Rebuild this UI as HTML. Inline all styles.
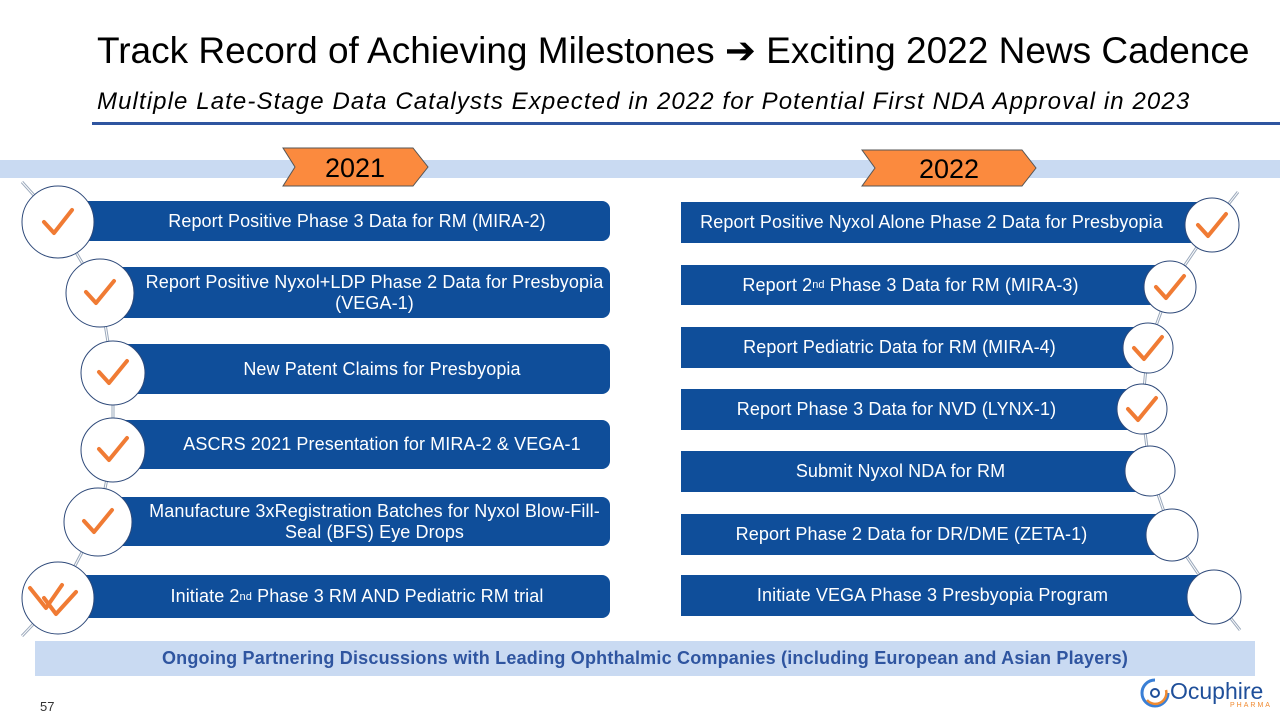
<!DOCTYPE html>
<html><head><meta charset="utf-8"><style>
body{margin:0;width:1280px;height:720px;background:#fff;position:relative;overflow:hidden;font-family:"Liberation Sans",sans-serif}
.abs{position:absolute}
.box{position:absolute;background:#0f4e9a;color:#fff;font-size:18px;letter-spacing:0.1px;display:flex;align-items:center;justify-content:center;text-align:center;line-height:21px;box-sizing:border-box}
.l{border-radius:0 8px 8px 0;padding-left:40px;padding-right:6px}
.r{padding-right:30px}
sup{font-size:11px;line-height:0}
</style></head><body>
<div class="abs" style="left:97px;top:29px;font-size:37px;color:#000;white-space:nowrap">Track Record of Achieving Milestones ➔ Exciting 2022 News Cadence</div>
<div class="abs" style="left:97px;top:88px;font-size:24px;letter-spacing:1.1px;font-style:italic;color:#000;white-space:nowrap">Multiple Late-Stage Data Catalysts Expected in 2022 for Potential First NDA Approval in 2023</div>
<div class="abs" style="left:92px;top:122px;width:1188px;height:3px;background:#2f55a0"></div>
<div class="abs" style="left:0;top:160px;width:1280px;height:18px;background:#c9daf2"></div>
<svg class="abs" style="left:0;top:0" width="1280" height="720">
<polygon points="283,148 413,148 428,167 413,186 283,186 295,167" fill="#fb8a3e" stroke="#555" stroke-width="1"/>
<polygon points="862,150 1022,150 1036,168 1022,186 862,186 875,168" fill="#fb8a3e" stroke="#555" stroke-width="1"/>
<text x="355" y="177" font-size="27" text-anchor="middle" font-family="Liberation Sans">2021</text>
<text x="949" y="178" font-size="27" text-anchor="middle" font-family="Liberation Sans">2022</text>
<polyline points="22,182 58,222 100,293 113,373 113,450 98,522 58,598 22,636" fill="none" stroke="#9aa8bb" stroke-width="3"/>
<polyline points="22,182 58,222 100,293 113,373 113,450 98,522 58,598 22,636" fill="none" stroke="#fff" stroke-width="1"/>
<polyline points="1238,192 1212,225 1170,287 1148,348 1142,409 1150,471 1172,535 1214,597 1240,630" fill="none" stroke="#9aa8bb" stroke-width="3"/>
<polyline points="1238,192 1212,225 1170,287 1148,348 1142,409 1150,471 1172,535 1214,597 1240,630" fill="none" stroke="#fff" stroke-width="1"/>
</svg>
<div class="box l" style="left:70px;top:201px;width:540px;height:40px">Report Positive Phase 3 Data for RM (MIRA-2)</div>
<div class="box l" style="left:105px;top:267px;width:505px;height:51px">Report Positive Nyxol+LDP Phase 2 Data for Presbyopia (VEGA-1)</div>
<div class="box l" style="left:120px;top:344px;width:490px;height:50px">New Patent Claims for Presbyopia</div>
<div class="box l" style="left:120px;top:420px;width:490px;height:49px">ASCRS 2021 Presentation for MIRA-2 &amp; VEGA-1</div>
<div class="box l" style="left:105px;top:497px;width:505px;height:49px">Manufacture 3xRegistration Batches for Nyxol Blow-Fill-Seal (BFS) Eye Drops</div>
<div class="box l" style="left:70px;top:575px;width:540px;height:43px">Initiate 2<sup>nd</sup>&nbsp;Phase 3 RM AND Pediatric RM trial</div>

<div class="box r" style="left:681px;top:202px;width:531px;height:41px">Report Positive Nyxol Alone Phase 2 Data for Presbyopia</div>
<div class="box r" style="left:681px;top:265px;width:489px;height:40px">Report 2<sup>nd</sup>&nbsp;Phase 3 Data for RM (MIRA-3)</div>
<div class="box r" style="left:681px;top:327px;width:467px;height:41px">Report Pediatric Data for RM (MIRA-4)</div>
<div class="box r" style="left:681px;top:389px;width:461px;height:41px">Report Phase 3 Data for NVD (LYNX-1)</div>
<div class="box r" style="left:681px;top:451px;width:469px;height:41px">Submit Nyxol NDA for RM</div>
<div class="box r" style="left:681px;top:514px;width:491px;height:41px">Report Phase 2 Data for DR/DME (ZETA-1)</div>
<div class="box r" style="left:681px;top:575px;width:533px;height:41px">Initiate VEGA Phase 3 Presbyopia Program</div>

<svg class="abs" style="left:0;top:0" width="1280" height="720">
<g fill="#fff" stroke="#2f4a7a" stroke-width="1">
<circle cx="58" cy="222" r="36"/><circle cx="100" cy="293" r="34"/><circle cx="113" cy="373" r="32"/><circle cx="113" cy="450" r="32"/><circle cx="98" cy="522" r="34"/><circle cx="58" cy="598" r="36"/>
<circle cx="1212" cy="225" r="27"/><circle cx="1170" cy="287" r="26"/><circle cx="1148" cy="348" r="25"/><circle cx="1142" cy="409" r="25"/><circle cx="1150" cy="471" r="25"/><circle cx="1172" cy="535" r="26"/><circle cx="1214" cy="597" r="27"/>
</g>
<g fill="none" stroke="#f07b34" stroke-width="4" stroke-linecap="round" stroke-linejoin="round">
<polyline points="44,222 54,233 72,210"/><polyline points="86,292 96,303 114,281"/><polyline points="99,372 109,383 127,361"/><polyline points="99,449 109,460 127,438"/><polyline points="84,521 94,532 112,510"/>
<polyline points="30,588 46,608 62,585"/><polyline points="44,598 56,614 76,592"/>
<polyline points="1198,225 1208,236 1226,214"/><polyline points="1156,287 1166,298 1184,276"/><polyline points="1134,348 1144,359 1162,337"/><polyline points="1128,409 1138,420 1156,398"/>
</g>
</svg>
<div class="abs" style="left:35px;top:641px;width:1220px;height:35px;background:#c9daf2;color:#2f55a0;font-weight:bold;font-size:18px;letter-spacing:0.2px;display:flex;align-items:center;justify-content:center">Ongoing Partnering Discussions with Leading Ophthalmic Companies (including European and Asian Players)</div>
<div class="abs" style="left:40px;top:699px;font-size:13px;color:#333">57</div>
<div class="abs" style="left:1138px;top:676px;width:130px;height:34px">
<svg width="34" height="34" style="position:absolute;left:0;top:0"><path d="M17 4 A13 13 0 1 0 30 17" fill="none" stroke="#3a7fd5" stroke-width="3"/><path d="M9 24 A11 11 0 0 0 28 14" fill="none" stroke="#f08a30" stroke-width="2.5"/><circle cx="17" cy="17" r="4" fill="none" stroke="#1f4f9a" stroke-width="2"/></svg>
<span style="position:absolute;left:32px;top:2px;font-size:23px;color:#1f4f9a">Ocuphire</span>
<span style="position:absolute;left:92px;top:26px;font-size:7px;color:#f08a30;letter-spacing:2px">PHARMA</span>
</div>
</body></html>
